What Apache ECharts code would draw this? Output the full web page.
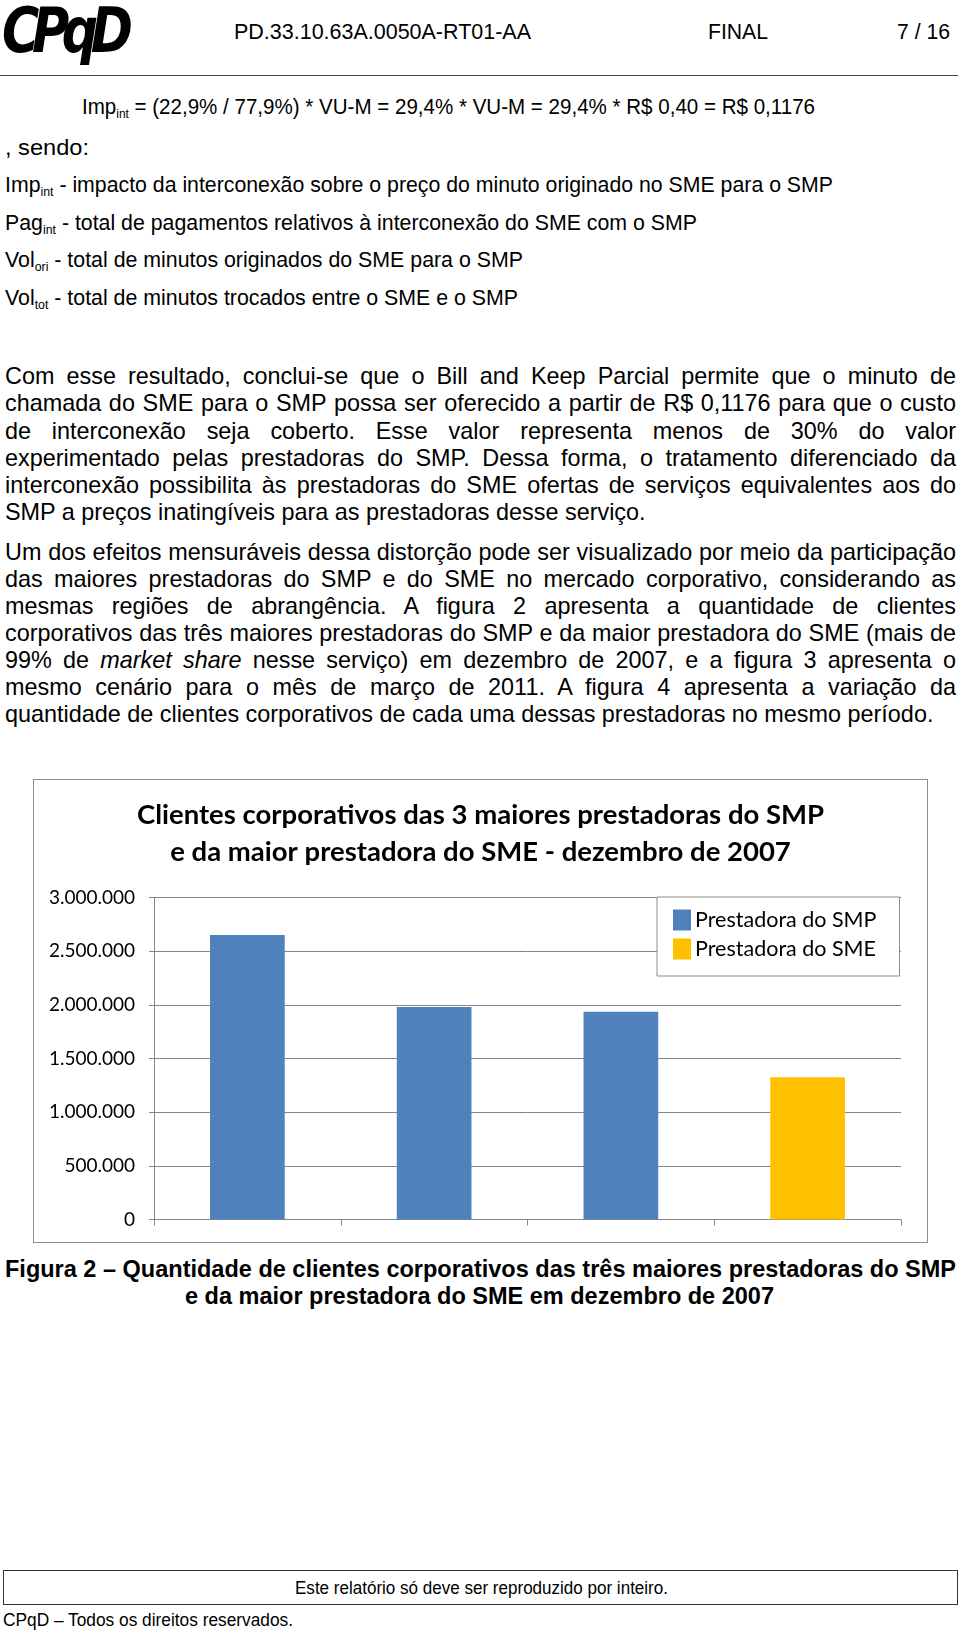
<!DOCTYPE html>
<html><head><meta charset="utf-8">
<script src="https://cdn.jsdelivr.net/npm/echarts@6/dist/echarts.min.js"></script>
<style>
html,body{margin:0;padding:0;background:#fff;}
body{width:960px;height:1633px;position:relative;overflow:hidden;font-family:"Liberation Sans",Arial,sans-serif;color:#000;}
.t{position:absolute;white-space:nowrap;font-size:22.5px;line-height:24px;transform-origin:left center;}
.j{position:absolute;left:5px;width:951px;font-size:23.4px;line-height:24px;text-align:justify;text-align-last:justify;white-space:nowrap;}
.j.last{text-align-last:left;}
sub{font-size:13px;vertical-align:-4px;line-height:0;}
#chart{position:absolute;left:33px;top:779px;width:893px;height:462px;border:1px solid #8c8c8c;}
</style></head><body>
<div class="t" id="logo" style="left:2px;top:-2px;font-family:'DejaVu Sans';font-weight:bold;font-style:italic;font-size:62px;line-height:66px;letter-spacing:-9px;transform:scaleX(0.82);transform-origin:left top;">CPqD</div>
<div class="t fit" data-w="297" style="left:234px;top:20px;">PD.33.10.63A.0050A-RT01-AA</div>
<div class="t fit" data-w="60" style="left:708px;top:20px;">FINAL</div>
<div class="t fit" data-w="53" style="left:897px;top:20px;">7 / 16</div>
<div style="position:absolute;left:0;top:75px;width:958px;height:1px;background:#444;"></div>

<div class="t fit" data-w="733" style="left:82px;top:95px;">Imp<sub>int</sub> = (22,9% / 77,9%) * VU-M = 29,4% * VU-M = 29,4% * R$ 0,40 = R$ 0,1176</div>
<div class="t fit" data-w="84" style="left:5px;top:136px;">, sendo:</div>
<div class="t fit" data-w="828" style="left:5px;top:173px;">Imp<sub>int</sub> - impacto da interconexão sobre o preço do minuto originado no SME para o SMP</div>
<div class="t fit" data-w="692" style="left:5px;top:211px;">Pag<sub>int</sub> - total de pagamentos relativos à interconexão do SME com o SMP</div>
<div class="t fit" data-w="518" style="left:5px;top:248px;">Vol<sub>ori</sub> - total de minutos originados do SME para o SMP</div>
<div class="t fit" data-w="513" style="left:5px;top:286px;">Vol<sub>tot</sub> - total de minutos trocados entre o SME e o SMP</div>

<div class="j" style="top:364px;">Com esse resultado, conclui-se que o Bill and Keep Parcial permite que o minuto de</div>
<div class="j" style="top:391px;">chamada do SME para o SMP possa ser oferecido a partir de R$ 0,1176 para que o custo</div>
<div class="j" style="top:419px;">de interconexão seja coberto. Esse valor representa menos de 30% do valor</div>
<div class="j" style="top:446px;">experimentado pelas prestadoras do SMP. Dessa forma, o tratamento diferenciado da</div>
<div class="j" style="top:473px;">interconexão possibilita às prestadoras do SME ofertas de serviços equivalentes aos do</div>
<div class="j last" style="top:500px;">SMP a preços inatingíveis para as prestadoras desse serviço.</div>

<div class="j" style="top:540px;">Um dos efeitos mensuráveis dessa distorção pode ser visualizado por meio da participação</div>
<div class="j" style="top:567px;">das maiores prestadoras do SMP e do SME no mercado corporativo, considerando as</div>
<div class="j" style="top:594px;">mesmas regiões de abrangência. A figura 2 apresenta a quantidade de clientes</div>
<div class="j" style="top:621px;">corporativos das três maiores prestadoras do SMP e da maior prestadora do SME (mais de</div>
<div class="j" style="top:648px;">99% de <i>market share</i> nesse serviço) em dezembro de 2007, e a figura 3 apresenta o</div>
<div class="j" style="top:675px;">mesmo cenário para o mês de março de 2011. A figura 4 apresenta a variação da</div>
<div class="j last" style="top:702px;">quantidade de clientes corporativos de cada uma dessas prestadoras no mesmo período.</div>

<div id="chart"></div>

<div class="t fit" data-w="951" style="left:5px;top:1257px;font-weight:bold;font-size:23.4px;">Figura 2 – Quantidade de clientes corporativos das três maiores prestadoras do SMP</div>
<div class="t fit" data-w="589" style="left:185px;top:1284px;font-weight:bold;font-size:23.4px;">e da maior prestadora do SME em dezembro de 2007</div>

<div style="position:absolute;left:3px;top:1570px;width:953px;height:33px;border:1px solid #333;"></div>
<div class="t fit" data-w="373" style="left:295px;top:1576px;font-size:17.5px;">Este relatório só deve ser reproduzido por inteiro.</div>
<div class="t fit" data-w="290" style="left:3px;top:1608px;font-size:17.5px;">CPqD – Todos os direitos reservados.</div>

<script>
// fit text widths of document lines
Array.prototype.forEach.call(document.querySelectorAll('.fit'), function(el){
  var w = el.getBoundingClientRect().width;
  var target = parseFloat(el.getAttribute('data-w'));
  if (w > 0) el.style.transform = 'scaleX(' + (target / w) + ')';
});

var titleLines = ['Clientes corporativos das 3 maiores prestadoras do SMP', 'e da maior prestadora do SME - dezembro de 2007'];
var categories = ['', ' ', '  ', '   '];
var seriesNames = ['Prestadora do SMP', 'Prestadora do SME'];
var smpValues = [2650000, 1980000, 1935000, '-'];
var smeValues = ['-', '-', '-', 1325000];
var yTicks = [0, 500000, 1000000, 1500000, 2000000, 2500000, 3000000];

function fmt(v){ return String(v).replace(/\B(?=(\d{3})+(?!\d))/g, '.'); }

var chart = echarts.init(document.getElementById('chart'), null, {renderer:'canvas'});
chart.setOption({
  animation:false,
  backgroundColor:'#fff',
  title:{
    text: titleLines.join('\n'),
    left:'center', top:17, padding:0,
    textStyle:{fontFamily:'Lato', fontWeight:'bold', fontSize:27.5, lineHeight:37, color:'#000'}
  },
  legend:{
    orient:'vertical', left:623, top:117,
    padding:[12,23,16,16], itemGap:7, itemWidth:18, itemHeight:21, icon:'rect',
    backgroundColor:'#fff', borderColor:'#8c8c8c', borderWidth:1,
    textStyle:{fontFamily:'Lato', fontSize:21.5, color:'#000', padding:[0,0,0,-1]},
    data: seriesNames
  },
  grid:{left:120, right:26, top:117.5, bottom:22.5, containLabel:false},
  xAxis:{
    type:'category', data:categories,
    axisLine:{lineStyle:{color:'#868686', width:1}},
    axisTick:{show:true, length:6, lineStyle:{color:'#868686'}},
    axisLabel:{show:false}
  },
  yAxis:{
    type:'value', min:yTicks[0], max:yTicks[yTicks.length-1], interval:yTicks[1]-yTicks[0],
    axisLine:{show:true, lineStyle:{color:'#868686', width:1}},
    axisTick:{show:true, length:5, lineStyle:{color:'#868686'}},
    splitLine:{lineStyle:{color:'#868686', width:1}},
    axisLabel:{margin:19, fontFamily:'Lato', fontSize:19, color:'#000', formatter:fmt}
  },
  series:[
    {name:seriesNames[0], type:'bar', stack:'s', data:smpValues, barWidth:'40%', itemStyle:{color:'#4F81BD'}},
    {name:seriesNames[1], type:'bar', stack:'s', data:smeValues, barWidth:'40%', itemStyle:{color:'#FFC000'}}
  ]
});
</script>
</body></html>
